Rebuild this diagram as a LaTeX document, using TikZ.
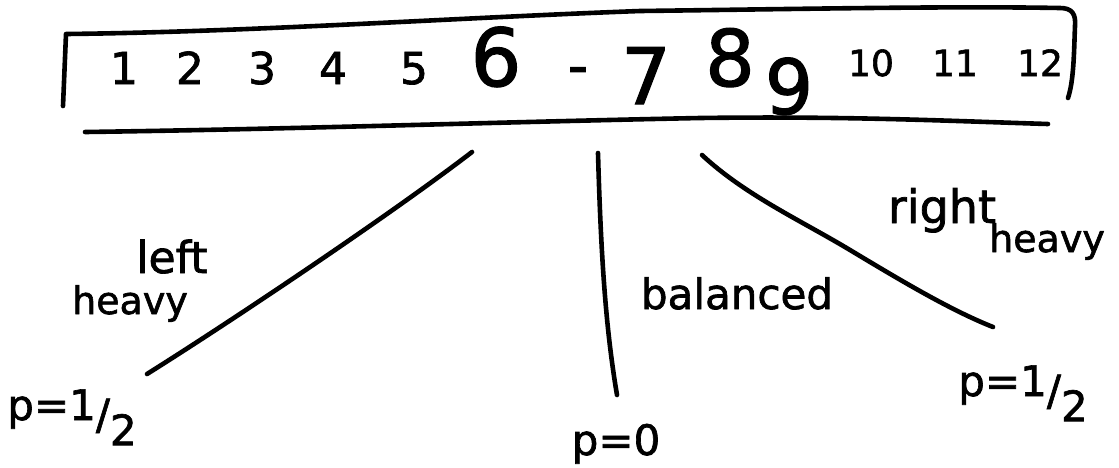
\documentclass[tikz,border=0pt]{standalone}
\usepackage{fontspec}
\setmainfont{DejaVu Sans}[FakeBold=1.6]
\newcommand\fsz[1]{\fontsize{#1}{#1}\selectfont}
\newcommand\phalf{p=1\raisebox{-0.22em}{/}\raisebox{-0.6em}{2}}
\tikzset{
  ink/.style={line width=4.6pt, line cap=round, line join=round},
  dig/.style={anchor=base, inner sep=0pt},
  lab/.style={anchor=base, inner sep=0pt}
}
\begin{document}
\begin{tikzpicture}[x=1pt,y=-1pt]
\fill[white] (0,0) rectangle (1119,467);
\useasboundingbox (0,0) rectangle (1119,467);
% array box
\draw[ink] (63,106) -- (66,34) .. controls (250,32) and (450,18) .. (640,11)
  .. controls (800,9) and (950,6) .. (1060,8)
  .. controls (1072,8) and (1076,14) .. (1075,26)
  .. controls (1074,50) and (1074,80) .. (1068,98);
\draw[ink] (85,132) .. controls (300,129) and (500,122) .. (700,118)
  .. controls (850,116) and (950,121) .. (1048,124);
% entries
\node[dig,font=\fsz{44}] (d1) at (124,84) {1};
\node[dig,font=\fsz{44}] (d2) at (190,84) {2};
\node[dig,font=\fsz{44}] (d3) at (262,84) {3};
\node[dig,font=\fsz{44}] (d4) at (333,84) {4};
\node[dig,font=\fsz{44}] (d5) at (414,84) {5};
\node[dig,font=\fsz{80}] (d6) at (496,86) {6};
\node[dig,font=\fsz{56}] (dash) at (578,85) {-};
\node[dig,font=\fsz{78}] (d7) at (646,104) {7};
\node[dig,font=\fsz{78}] (d8) at (730,86) {8};
\node[dig,font=\fsz{76}] (d9) at (789,114) {9};
\node[dig,font=\fsz{36}] (d10) at (871,76) {10};
\node[dig,font=\fsz{36}] (d11) at (955,76) {11};
\node[dig,font=\fsz{36}] (d12) at (1040,76) {12};
% connector ends
\coordinate (lt) at (472,152);
\coordinate (lb) at (147,374);
\coordinate (mt) at (598,153);
\coordinate (mb) at (617,395);
\coordinate (rt) at (702,155);
\coordinate (rb) at (993,327);
\draw[ink] (lt) .. controls (390,215) and (230,322) .. (lb);
\draw[ink] (mt) .. controls (601,260) and (606,330) .. (mb);
\draw[ink] (rt) .. controls (745,195) and (800,220) .. (850,250)
  .. controls (900,280) and (950,310) .. (rb);
% labels
\node[lab,font=\fsz{44}] (left) at (172,273) {left};
\node[lab,font=\fsz{38}] (lheavy) at (130,314) {heavy};
\node[lab,font=\fsz{42}] (bal) at (737,309) {balanced};
\node[lab,font=\fsz{46}] (right) at (942,223) {right};
\node[lab,font=\fsz{38}] (rheavy) at (1047,252) {heavy};
\node[lab,font=\fsz{42}] (pl) at (72,420) {\phalf};
\node[lab,font=\fsz{42}] (pm) at (616,455) {p=0};
\node[lab,font=\fsz{42}] (pr) at (1023,396) {\phalf};
\end{tikzpicture}
\end{document}
